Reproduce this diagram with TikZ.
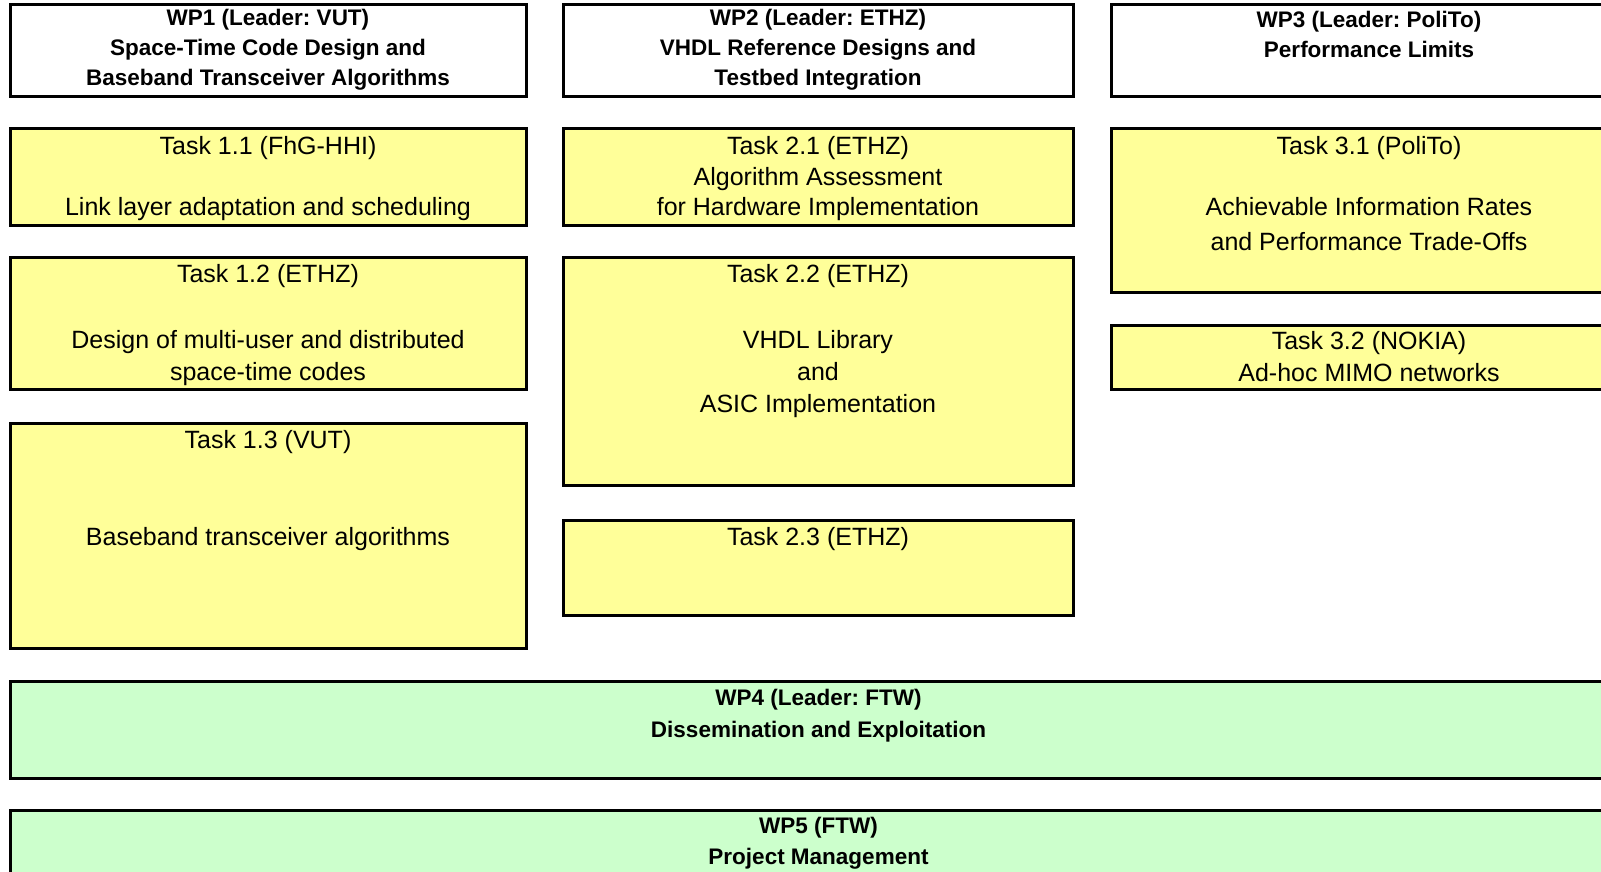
\documentclass[tikz,border=0pt]{standalone}
\usepackage{fontspec}
\setmainfont{Liberation Sans}
\frenchspacing
\definecolor{taskyellow}{HTML}{FFFF99}
\definecolor{wpgreen}{HTML}{CCFFCC}

\begin{document}
\begin{tikzpicture}[x=1pt, y=-1pt,
  box/.style={draw, line width=3pt, anchor=north west, inner sep=0pt, outer sep=0pt},
  wp/.style={box, fill=white, minimum height=92pt},
  task/.style={box, fill=taskyellow},
  mgmt/.style={box, fill=wpgreen, minimum width=1617pt},
  headtext/.style={anchor=north, align=center, inner sep=0pt, yshift=-4.5pt, font=\fontsize{22.5}{30}\selectfont\bfseries},
  tasktext/.style={anchor=north, align=center, inner sep=0pt, yshift=-7.5pt, font=\fontsize{25}{32}\selectfont}]
\useasboundingbox (0,0) rectangle (1601,872);
\clip (0,0) rectangle (1601,872);

% WP1
\node[wp, minimum width=516pt, label={[headtext, yshift=1pt]north:{WP1 (Leader: VUT)\\Space-Time Code Design and\\Baseband Transceiver Algorithms}}] (wp1) at (10,5) {};
\node[task, minimum width=516pt, minimum height=96pt, label={[tasktext]north:{Task 1.1 (FhG-HHI)\\[29pt]Link layer adaptation and scheduling}}] (t11) at (10,129) {};
\node[task, minimum width=516pt, minimum height=132pt, label={[tasktext]north:{Task 1.2 (ETHZ)\\[34pt]Design of multi-user and distributed\\space-time codes}}] (t12) at (10,257) {};
\node[task, minimum width=516pt, minimum height=225pt, label={[tasktext]north:{Task 1.3 (VUT)\\[65pt]Baseband transceiver algorithms}}] (t13) at (10,423) {};

% WP2
\node[wp, minimum width=510pt, label={[headtext, yshift=1pt]north:{WP2 (Leader: ETHZ)\\VHDL Reference Designs and\\Testbed Integration}}] (wp2) at (563,5) {};
\node[task, minimum width=510pt, minimum height=96pt, label={[tasktext]north:{Task 2.1 (ETHZ)\\[-1.5pt]Algorithm Assessment\\[-1.5pt]for Hardware Implementation}}] (t21) at (563,129) {};
\node[task, minimum width=510pt, minimum height=228pt, label={[tasktext]north:{Task 2.2 (ETHZ)\\[34pt]VHDL Library\\and\\ASIC Implementation}}] (t22) at (563,257) {};
\node[task, minimum width=510pt, minimum height=95pt, label={[tasktext]north:{Task 2.3 (ETHZ)}}] (t23) at (563,520) {};

% WP3
\node[wp, minimum width=516pt, label={[headtext, yshift=-1pt]north:{WP3 (Leader: PoliTo)\\Performance Limits}}] (wp3) at (1111,5) {};
\node[task, minimum width=516pt, minimum height=163pt, label={[tasktext]north:{Task 3.1 (PoliTo)\\[29pt]Achievable Information Rates\\[3pt]and Performance Trade-Offs}}] (t31) at (1111,129) {};
\node[task, minimum width=516pt, minimum height=64pt, label={[tasktext, yshift=1pt]north:{Task 3.2 (NOKIA)\\[0pt]Ad-hoc MIMO networks}}] (t32) at (1111,325) {};

% WP4 and WP5
\node[mgmt, minimum height=97pt, label={[headtext, yshift=-3pt]north:{WP4 (Leader: FTW)\\[2pt]Dissemination and Exploitation}}] (wp4) at (10,681) {};
\node[mgmt, minimum height=100pt, label={[headtext, yshift=-2pt]north:{WP5 (FTW)\\[1pt]Project Management}}] (wp5) at (10,810) {};
\end{tikzpicture}
\end{document}
